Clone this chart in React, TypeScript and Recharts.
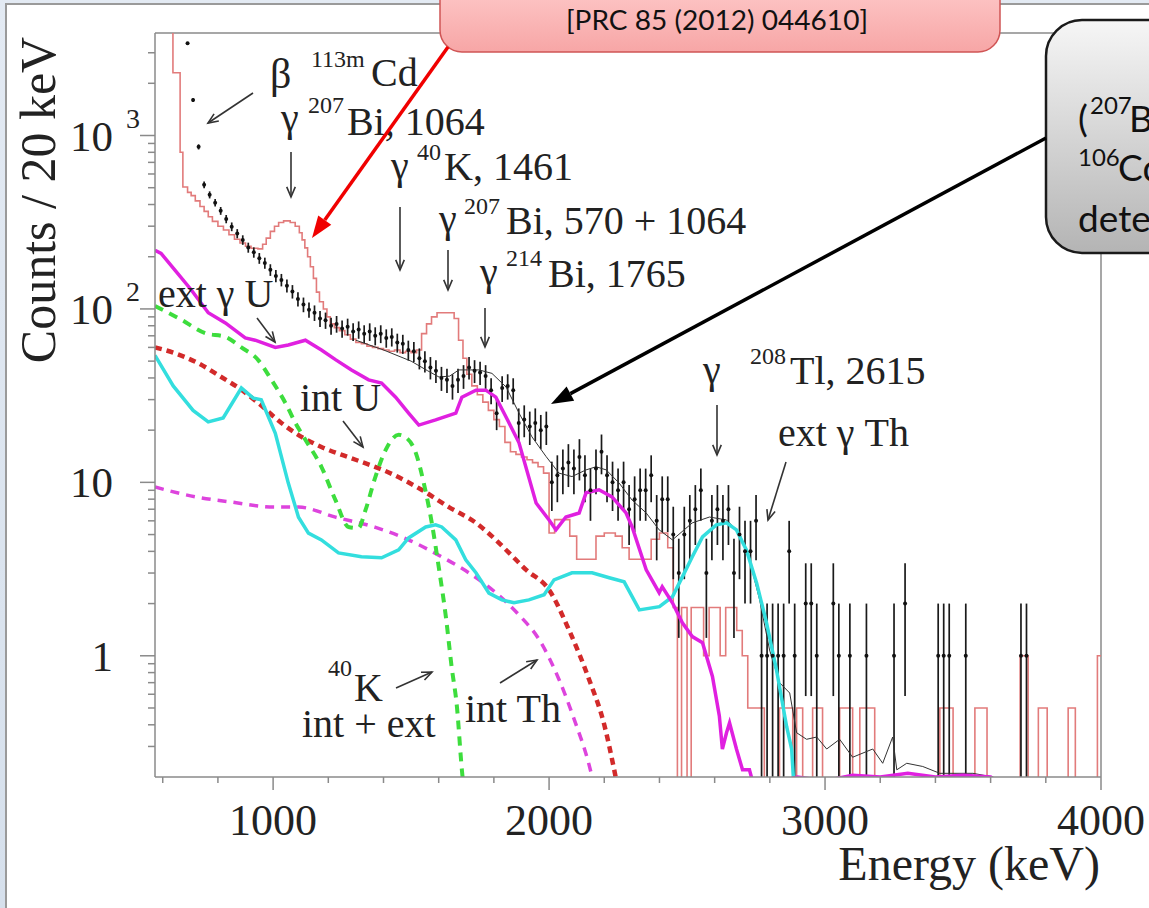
import {
  ComposedChart,
  Line,
  Scatter,
  ErrorBar,
  XAxis,
  YAxis,
  ReferenceLine,
} from 'recharts';

// measured counts per 20 keV bin
const countE = [
  690, 710, 730, 750, 770, 790, 810, 830, 850, 870, 890, 910, 930, 950, 970, 990,
  1010, 1030, 1050, 1070, 1090, 1110, 1130, 1150, 1170, 1190, 1210, 1230, 1250, 1270, 1290,
  1310, 1330, 1350, 1370, 1390, 1410, 1430, 1450, 1470, 1490, 1510, 1530, 1550, 1570, 1590,
  1610, 1630, 1650, 1670, 1690, 1710, 1730, 1750, 1770, 1790, 1810, 1830, 1850, 1870, 1890,
  1910, 1930, 1950, 1970, 1990, 2010, 2030, 2050, 2070, 2090, 2110, 2130, 2150, 2170, 2190,
  2210, 2230, 2250, 2270, 2290, 2310, 2330, 2350, 2370, 2390, 2410, 2430, 2450, 2470, 2490,
  2510, 2530, 2550, 2570, 2590, 2610, 2630, 2650, 2670, 2690, 2710, 2730, 2750, 2770, 2790,
  2810, 2830, 2850, 2870, 2890, 2930, 2950, 2970, 3030, 3050, 3090, 3150, 3250, 3290, 3410,
  3430, 3450, 3510, 3710, 3730,
];
const countV = [
  3400, 1600, 860, 520, 455, 410, 368, 330, 298, 272, 250, 226, 212, 196, 184, 168,
  155, 147, 136, 126, 114, 106, 99, 95, 88, 86, 80, 82, 77, 79, 74,
  76, 72, 74, 70, 72, 68, 69, 64, 63, 58, 57, 52, 50, 46, 44,
  40, 39, 36, 39, 41, 46, 44, 43, 41, 34, 25, 35, 36, 34, 22,
  23, 21, 22, 20, 21, 10, 11, 12, 13, 12, 14, 11, 9, 12, 15,
  11, 10, 9, 10, 7, 8, 9, 9, 11, 6, 8, 8, 5, 3, 5,
  6, 7, 9, 3, 6, 7, 6, 7, 3, 5, 4, 4, 6, 1, 1,
  1, 1, 1, 4, 1, 2, 2, 1, 2, 1, 1, 1, 1, 2, 1,
  1, 1, 1, 1, 1,
];

// 106Cd / 207Bi reference spectrum (step histogram, left bin edges)
const refE = [
  572, 637, 663, 673, 690, 703, 718, 735, 750, 765, 780, 800, 820, 840, 860, 880, 900, 920,
  945, 962, 975, 990, 1005, 1020, 1038, 1062, 1080, 1095, 1105, 1115, 1125, 1135, 1146, 1157,
  1168, 1182, 1195, 1207, 1222, 1240, 1260, 1280, 1300, 1320, 1340, 1360, 1380, 1400, 1420,
  1440, 1460, 1480, 1500, 1520, 1538, 1556, 1574, 1594, 1640, 1656, 1672, 1688, 1702, 1720,
  1740, 1760, 1780, 1800, 1820, 1840, 1860, 1880, 1900, 1920, 1940, 1960, 1980, 2000, 2020,
  2050, 2075, 2100, 2140, 2170, 2200, 2240, 2265, 2290, 2340, 2370, 2400, 2430, 2450, 2465,
  2480, 2500, 2515, 2530, 2560, 2580, 2600, 2620, 2640, 2660, 2680, 2700, 2720, 2760, 2780,
  2835, 2883, 2897, 2919, 2955, 2991, 3053, 3100, 3126, 3180, 3416, 3464, 3543, 3587, 3707,
  3736, 3773, 3805, 3881, 3907, 3987, 4000,
];
const refV = [
  6000, 2300, 800, 505, 470, 450, 420, 390, 365, 340, 320, 300, 285, 268, 252, 240, 230, 224,
  222, 236, 256, 280, 300, 315, 322, 315, 300, 275, 250, 225, 200, 175, 150, 125,
  110, 100, 90, 82, 78, 75, 71, 67, 64, 63, 61, 60, 59, 58, 57,
  58, 56, 57, 56, 58, 72, 82, 90, 95, 95, 88, 66, 52, 42, 36,
  32, 29, 26, 23, 21, 17, 15, 14.5, 14, 13.5, 13, 12.3, 11.3, 5.1, 6.1,
  6.1, 4.9, 3.6, 3.6, 4.9, 5.1, 4.9, 4.2, 3.6, 3.6, 4.7, 5.1, 4.2, 1.9, 0.05,
  1.9, 0.05, 1.9, 1.9, 1.0, 1.9, 1.9, 1.0, 1.9, 1.9, 1.4, 1.0, 0.5, 0.5, 0.05,
  0.5, 0.05, 0.5, 0.05, 0.5, 0.05, 0.5, 0.05, 0.5, 0.05, 0.5, 0.05, 0.5, 0.05, 1.0,
  0.05, 0.5, 0.05, 0.5, 0.05, 1.0, 1.0,
];

// total fit
const totalE = [
  1300, 1400, 1500, 1560, 1601, 1640, 1673, 1746, 1793, 1844, 1891, 1938, 1989, 2036, 2083,
  2134, 2170, 2207, 2254, 2301, 2352, 2399, 2447, 2519, 2581, 2643, 2690, 2726, 2763, 2799,
  2835, 2872, 2897, 2933, 2970, 3006, 3053, 3100, 3173, 3209, 3245, 3260, 3296, 3354, 3416,
  3536, 3609, 3660,
];
const totalV = [
  66, 58, 50, 44, 40.5, 41, 44.5, 44.5, 42.5, 35.5, 25.1, 18.3, 14.1, 11.3, 10.8,
  11.8, 12.3, 11.8, 9.9, 7.9, 6.66, 5.32, 4.66, 5.84, 6.31, 6.07, 5.11, 3.58, 2.1, 1.08,
  0.7, 0.61, 0.36, 0.33, 0.34, 0.29, 0.33, 0.26, 0.29, 0.24, 0.34, 0.22, 0.24, 0.23, 0.21,
  0.21, 0.2, 0.17,
];

// ext gamma U (solid magenta)
const extUE = [
  572, 594, 645, 703, 765, 827, 899, 935, 1008, 1055, 1117, 1175, 1226, 1284, 1346, 1393,
  1444, 1491, 1528, 1589, 1662, 1684, 1735, 1771, 1807, 1844, 1891, 1953, 2000, 2025, 2061,
  2109, 2134, 2181, 2228, 2279, 2301, 2352, 2399, 2410, 2447, 2483, 2519, 2556, 2592, 2617,
  2628, 2643, 2654, 2679, 2701, 2726, 2737, 2800, 2900, 3000, 3100, 3200, 3300, 3400, 3500,
  3600, 3650,
];
const extUV = [
  218, 209, 167, 129, 95, 83, 68, 66, 60, 62, 66, 58, 51, 44.5, 39, 37.4,
  31, 25.1, 21.4, 22.9, 25.1, 31, 34, 34, 31, 23.8, 16.9, 7.6, 6.07, 5.32, 6.31,
  6.66, 8.7, 9.06, 8.25, 6.66, 5.53, 3.13, 2.31, 2.5, 2.02, 1.55, 1.29, 1.19, 0.76, 0.45,
  0.29, 0.36, 0.41, 0.29, 0.22, 0.22, 0.19, 0.18, 0.2, 0.19, 0.205, 0.2, 0.21, 0.2, 0.205,
  0.2, 0.17,
];

// ext gamma Th (solid cyan)
const extThE = [
  572, 638, 710, 765, 819, 885, 928, 957, 1008, 1055, 1092, 1128, 1175, 1237, 1320, 1393,
  1455, 1491, 1553, 1589, 1611, 1662, 1698, 1735, 1782, 1829, 1873, 1927, 1982, 2018, 2083,
  2156, 2218, 2272, 2327, 2400, 2447, 2483, 2519, 2556, 2606, 2643, 2679, 2715, 2752, 2788,
  2824, 2861, 2879, 2890,
];
const extThV = [
  54, 36, 26, 22.3, 23.5, 35, 30.6, 29.9, 19.2, 9.9, 6.3, 5.1, 4.66, 3.92, 3.72, 3.67,
  4.08, 4.78, 5.53, 5.69, 5.53, 4.66, 3.58, 3.01, 2.3, 2.1, 2.02, 2.1, 2.25, 2.74, 3.01,
  3.01, 2.82, 2.67, 1.84, 1.92, 2.19, 2.85, 3.72, 4.85, 5.69, 5.84, 5.32, 4.08, 2.63, 1.55,
  0.83, 0.39, 0.29, 0.15,
];

// 40K int + ext (green dashed)
const k40E = [
  572, 667, 754, 827, 885, 946, 994, 1044, 1081, 1117, 1175, 1226, 1273, 1309, 1335, 1371,
  1408, 1455, 1484, 1517, 1546, 1575, 1600, 1626, 1647, 1666, 1684, 1691,
];
const k40V = [
  104, 86.7, 72.5, 69, 60, 50.7, 39, 28.8, 22, 17.6, 12.3, 7.9, 5.53, 5.45, 6.94, 10.8,
  15.4, 18.8, 18.0, 14.8, 9.9, 5.84, 3.26, 1.68, 0.86, 0.51, 0.22, 0.17,
];

// int U (red dashed)
const intUE = [
  572, 645, 728, 812, 885, 946, 1030, 1103, 1175, 1299, 1419, 1538, 1637, 1735, 1807, 1855,
  1917, 2000, 2072, 2145, 2200, 2236, 2247,
];
const intUV = [
  60, 55.5, 48.7, 40.5, 34.2, 28.7, 22, 18.3, 16, 13.5, 11.4, 9.06, 7.2, 5.84, 4.66, 3.92,
  3.13, 2.4, 1.41, 0.73, 0.4, 0.22, 0.18,
];

// int Th (magenta dashed)
const intThE = [572, 728, 848, 1008, 1092, 1226, 1371, 1491, 1611, 1709, 1807, 1891, 1964, 2036, 2091, 2145, 2163];
const intThV = [9.4, 8.2, 7.7, 7.2, 7.2, 6.3, 5.5, 4.66, 3.72, 3.01, 2.31, 1.72, 1.24, 0.73, 0.43, 0.235, 0.18];

const xTicks = [600, 800, 1000, 1200, 1400, 1600, 1800, 2000, 2200, 2400, 2600, 2800, 3000, 3200, 3400, 3600, 3800, 4000];
const xMajor = [1000, 2000, 3000, 4000];
const yTicks = [
  0.3, 0.4, 0.5, 0.6, 0.7, 0.8, 0.9, 1, 2, 3, 4, 5, 6, 7, 8, 9, 10, 20, 30, 40, 50, 60, 70, 80, 90,
  100, 200, 300, 400, 500, 600, 700, 800, 900, 1000, 2000, 3000,
];
const yLabels: Record<number, [string, string]> = { 1: ['1', ''], 10: ['10', ''], 100: ['10', '2'], 1000: ['10', '3'] };

const pts = (es: number[], vs: number[]) => es.map((e, i) => ({ e, v: vs[i] }));

const counts = countE.map((e, i) => {
  const v = countV[i];
  const s = Math.sqrt(v);
  return { e, v, err: [v - Math.max(v - s, 0.2), s] };
});

const SERIF = "'Liberation Serif', 'DejaVu Serif', serif";
const SANS = "Lato, 'Open Sans', sans-serif";
const AXIS = '#8a8a8a';
const INK = '#222';

const YTick = (props: any) => {
  const { x, y, payload } = props;
  const lab = yLabels[payload.value];
  const len = lab ? 15 : 7;
  return (
    <g>
      <line x1={x - len} x2={x} y1={y} y2={y} stroke={AXIS} strokeWidth={1.5} />
      {lab && (
        <text x={x - 42} y={y + 15} textAnchor="end" fontFamily={SERIF} fontSize={43} fill={INK}>
          {lab[0]}
        </text>
      )}
      {lab && lab[1] && (
        <text x={x - 29} y={y - 8} fontFamily={SERIF} fontSize={28} fill={INK}>
          {lab[1]}
        </text>
      )}
    </g>
  );
};

const XTick = (props: any) => {
  const { x, y, payload } = props;
  const major = xMajor.includes(payload.value);
  return (
    <g>
      <line x1={x} x2={x} y1={y} y2={y + (major ? 13 : 6)} stroke={AXIS} strokeWidth={1.5} />
      {major && (
        <text x={x} y={y + 58} textAnchor="middle" fontFamily={SERIF} fontSize={44} fill={INK}>
          {payload.value}
        </text>
      )}
    </g>
  );
};

const Arrow = ({ x1, y1, x2, y2 }: { x1: number; y1: number; x2: number; y2: number }) => {
  const a = Math.atan2(y2 - y1, x2 - x1);
  const h = 11;
  const p1 = [x2 - h * Math.cos(a - 0.4), y2 - h * Math.sin(a - 0.4)];
  const p2 = [x2 - h * Math.cos(a + 0.4), y2 - h * Math.sin(a + 0.4)];
  return (
    <g stroke="#333" strokeWidth={1.6} fill="none">
      <line x1={x1} y1={y1} x2={x2} y2={y2} />
      <polyline points={`${p1[0]},${p1[1]} ${x2},${y2} ${p2[0]},${p2[1]}`} />
    </g>
  );
};

const BigArrow = ({ x1, y1, x2, y2, color }: { x1: number; y1: number; x2: number; y2: number; color: string }) => {
  const a = Math.atan2(y2 - y1, x2 - x1);
  const h = 22;
  const bx = x2 - h * Math.cos(a);
  const by = y2 - h * Math.sin(a);
  const p1 = [bx + 8 * Math.sin(a), by - 8 * Math.cos(a)];
  const p2 = [bx - 8 * Math.sin(a), by + 8 * Math.cos(a)];
  return (
    <g>
      <line x1={x1} y1={y1} x2={bx} y2={by} stroke={color} strokeWidth={3.5} />
      <polygon points={`${x2},${y2} ${p1[0]},${p1[1]} ${p2[0]},${p2[1]}`} fill={color} />
    </g>
  );
};

const T = ({ x, y, s = 40, children }: { x: number; y: number; s?: number; children: any }) => (
  <text x={x} y={y} fontFamily={SERIF} fontSize={s} fill={INK}>
    {children}
  </text>
);

const Overlay = () => (
  <svg width={1149} height={908} style={{ position: 'absolute', left: 0, top: 0, pointerEvents: 'none' }}>
    <defs>
      <linearGradient id="pink" x1="0" y1="0" x2="0" y2="1">
        <stop offset="0%" stopColor="#ffd0d0" />
        <stop offset="100%" stopColor="#f7a6a6" />
      </linearGradient>
      <linearGradient id="grey" x1="0" y1="0" x2="0" y2="1">
        <stop offset="0%" stopColor="#f6f6f6" />
        <stop offset="100%" stopColor="#b4b4b4" />
      </linearGradient>
    </defs>

    <text x={38} y={200} transform="rotate(-90 38 200)" textAnchor="middle" dominantBaseline="central" fontFamily={SERIF} fontSize={50} fill={INK}>
      Counts / 20 keV
    </text>
    <text x={1100} y={880} textAnchor="end" fontFamily={SERIF} fontSize={48} fill={INK}>
      Energy (keV)
    </text>

    <T x={270} y={88} s={42}>β</T>
    <T x={311} y={67} s={24}>113m</T>
    <T x={371} y={86}>Cd</T>
    <Arrow x1={253} y1={93} x2={208} y2={123} />

    <T x={281} y={131}>γ</T>
    <T x={308} y={113} s={24}>207</T>
    <T x={347} y={135}>Bi, 1064</T>
    <Arrow x1={291} y1={152} x2={291} y2={197} />

    <T x={391} y={179}>γ</T>
    <T x={417} y={160} s={24}>40</T>
    <T x={444} y={180}>K, 1461</T>
    <Arrow x1={400} y1={207} x2={400} y2={270} />

    <T x={439} y={232}>γ</T>
    <T x={464} y={214} s={24}>207</T>
    <T x={506} y={234}>Bi, 570 + 1064</T>
    <Arrow x1={448} y1={250} x2={448} y2={290} />

    <T x={480} y={285}>γ</T>
    <T x={506} y={266} s={24}>214</T>
    <T x={548} y={287}>Bi, 1765</T>
    <Arrow x1={485} y1={308} x2={485} y2={347} />

    <T x={158} y={307}>ext γ U</T>
    <Arrow x1={257} y1={318} x2={275} y2={342} />

    <T x={300} y={411}>int U</T>
    <Arrow x1={343} y1={421} x2={363} y2={447} />

    <T x={703} y={383}>γ</T>
    <T x={750} y={364} s={24}>208</T>
    <T x={790} y={384}>Tl, 2615</T>
    <Arrow x1={717} y1={405} x2={717} y2={455} />

    <T x={778} y={446}>ext γ Th</T>
    <Arrow x1={786} y1={462} x2={768} y2={520} />

    <T x={328} y={676} s={24}>40</T>
    <T x={354} y={701}>K</T>
    <Arrow x1={396} y1={688} x2={432} y2={672} />
    <T x={302} y={737}>int + ext</T>

    <T x={465} y={722}>int Th</T>
    <Arrow x1={500} y1={683} x2={537} y2={660} />

    <rect x={440} y={-30} width={560} height={82} rx={22} fill="url(#pink)" stroke="#d05555" strokeWidth={1.5} />
    <text x={566} y={30} fontFamily={SANS} fontSize={26} fill="#111" textLength={302} lengthAdjust="spacingAndGlyphs">
      [PRC 85 (2012) 044610]
    </text>
    <BigArrow x1={448} y1={47} x2={312} y2={238} color="#f00000" />

    <rect x={1046} y={20} width={180} height={233} rx={36} fill="url(#grey)" stroke="#1a1a1a" strokeWidth={2.5} />
    <text x={1078} y={132} fontFamily={SANS} fontSize={37} fill="#111">(</text>
    <text x={1090} y={114} fontFamily={SANS} fontSize={24} fill="#111">207</text>
    <text x={1129} y={132} fontFamily={SANS} fontSize={37} fill="#111">Bi,</text>
    <text x={1078} y={166} fontFamily={SANS} fontSize={24} fill="#111">106</text>
    <text x={1118} y={181} fontFamily={SANS} fontSize={37} fill="#111">Cd</text>
    <text x={1078} y={232} fontFamily={SANS} fontSize={37} fill="#111">detector</text>
    <BigArrow x1={1046} y1={138} x2={551} y2={404} color="#000" />
  </svg>
);

const Spectrum = () => (
  <ComposedChart width={1149} height={908} margin={{ top: 33, right: 48, bottom: 71, left: 95 }}>
    <XAxis
      type="number"
      dataKey="e"
      domain={[572, 4000]}
      allowDataOverflow
      ticks={xTicks}
      interval={0}
      height={60}
      tickSize={0}
      tickMargin={0}
      tickLine={false}
      tick={(p: any) => <XTick {...p} />}
      axisLine={{ stroke: AXIS, strokeWidth: 1.5 }}
    />
    <YAxis
      type="number"
      scale="log"
      domain={[0.2, 3900]}
      allowDataOverflow
      ticks={yTicks}
      interval={0}
      width={60}
      tickSize={0}
      tickMargin={0}
      tickLine={false}
      tick={(p: any) => <YTick {...p} />}
      axisLine={{ stroke: AXIS, strokeWidth: 1.5 }}
    />
    <ReferenceLine y={3900} stroke={AXIS} strokeWidth={1.5} />
    <ReferenceLine x={4000} stroke={AXIS} strokeWidth={1.5} />

    <Line data={pts(refE, refV)} dataKey="v" type="stepAfter" stroke="#e27b7b" strokeWidth={1.6} dot={false} activeDot={false} isAnimationActive={false} />
    <Scatter
      data={counts}
      dataKey="v"
      isAnimationActive={false}
      shape={(p: any) => <circle cx={p.cx} cy={p.cy} r={2} fill="#111" />}
    >
      <ErrorBar dataKey="err" direction="y" width={0} stroke="#1a1a1a" strokeWidth={1.7} />
    </Scatter>
    <Line data={pts(totalE, totalV)} dataKey="v" type="linear" stroke="#333" strokeWidth={1} dot={false} activeDot={false} isAnimationActive={false} />
    <Line data={pts(intThE, intThV)} dataKey="v" type="monotone" stroke="#dd44dd" strokeWidth={3.5} strokeDasharray="9 7" dot={false} activeDot={false} isAnimationActive={false} />
    <Line data={pts(intUE, intUV)} dataKey="v" type="monotone" stroke="#d22a2a" strokeWidth={4.5} strokeDasharray="7 5" dot={false} activeDot={false} isAnimationActive={false} />
    <Line data={pts(k40E, k40V)} dataKey="v" type="monotone" stroke="#3ddd3d" strokeWidth={4} strokeDasharray="9 7" dot={false} activeDot={false} isAnimationActive={false} />
    <Line data={pts(extThE, extThV)} dataKey="v" type="linear" stroke="#33dede" strokeWidth={3.5} dot={false} activeDot={false} isAnimationActive={false} />
    <Line data={pts(extUE, extUV)} dataKey="v" type="linear" stroke="#e020e0" strokeWidth={3.5} dot={false} activeDot={false} isAnimationActive={false} />
  </ComposedChart>
);

export default function App() {
  return (
    <div style={{ position: 'absolute', left: 0, top: 0, width: 1149, height: 908, overflow: 'hidden', background: 'linear-gradient(#e3eaf3, #d6e0ec)' }}>
      <div style={{ position: 'absolute', left: 5, top: 3, right: 0, bottom: 0, background: '#fff', borderLeft: '2px solid #9a9a9a', borderTop: '2px solid #9a9a9a' }} />
      <div style={{ position: 'absolute', left: 0, top: 0 }}>
        <Spectrum />
      </div>
      <Overlay />
    </div>
  );
}
